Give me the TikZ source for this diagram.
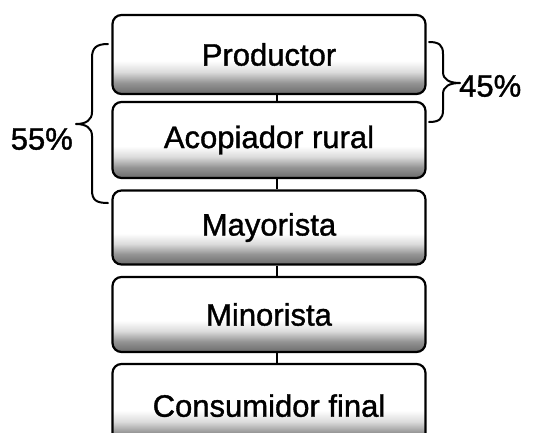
\documentclass[tikz,border=0pt]{standalone}
\usepackage{fontspec}
\setmainfont{Liberation Sans}
\newfontfamily\heavyfont{Liberation Sans}[FakeBold=1.2]
\pgfdeclareverticalshading{boxshade}{100bp}{color(0bp)=(black!55); color(25bp)=(black!58); color(32bp)=(black!42); color(39bp)=(black!14); color(46bp)=(white); color(100bp)=(white)}
\tikzset{
  stage/.style={draw=black, line width=2.2pt, rounded corners=9pt, shading=boxshade,
    minimum width=313pt, inner sep=0pt, font=\heavyfont\fontsize{31}{31}\selectfont},
  link/.style={draw=black, line width=2pt},
  bracepath/.style={draw=black, line width=2pt, line cap=round, line join=round},
  pct/.style={font=\heavyfont\fontsize{31}{31}\selectfont, inner sep=0pt}
}
\begin{document}
\begin{tikzpicture}[x=1pt,y=-1pt]
\useasboundingbox (0,0) rectangle (534,432);
\clip (0,0) rectangle (534,432);
\node[stage, minimum height=79pt] (P) at (269,54.5) {Productor};
\node[stage, minimum height=76pt] (A) at (269,140) {Acopiador rural};
\node[stage, minimum height=74pt] (M) at (269,227.5) {Mayorista};
\node[stage, minimum height=75pt] (N) at (269,314.5) {Minorista};
\node[stage, minimum height=80pt, text depth=0pt] (C) at (269,404) {\raisebox{-3pt}{Consumidor final}};
\draw[link] ([xshift=8pt]P.south) -- ([xshift=8pt]A.north);
\draw[link] ([xshift=8pt]A.south) -- ([xshift=8pt]M.north);
\draw[link] ([xshift=8pt]M.south) -- ([xshift=8pt]N.north);
\draw[link] ([xshift=8pt]N.south) -- ([xshift=8pt]C.north);
% left brace (55%)
\coordinate (lb1) at (108,44);
\coordinate (ltip) at (76,124);
\coordinate (lb2) at (108,203);
\draw[bracepath] (lb1) .. controls (96,44) and (92,48) .. (92,58) -- (92,112)
  .. controls (92,120) and (86,124) .. (ltip)
  .. controls (86,124) and (92,128) .. (92,136) -- (92,190)
  .. controls (92,200) and (96,203) .. (lb2);
\node[pct, anchor=east] (L55) at (73,139) {55\%};
% right brace (45%)
\coordinate (rb1) at (429,42);
\coordinate (rtip) at (460,83);
\coordinate (rb2) at (429,122);
\draw[bracepath] (rb1) .. controls (439,42) and (443,45) .. (443,54) -- (443,72)
  .. controls (443,80) and (450,83) .. (rtip)
  .. controls (450,83) and (443,86) .. (443,94) -- (443,110)
  .. controls (443,119) and (439,122) .. (rb2);
\node[pct, anchor=west] (R45) at (459,86) {45\%};
\end{tikzpicture}
\end{document}
